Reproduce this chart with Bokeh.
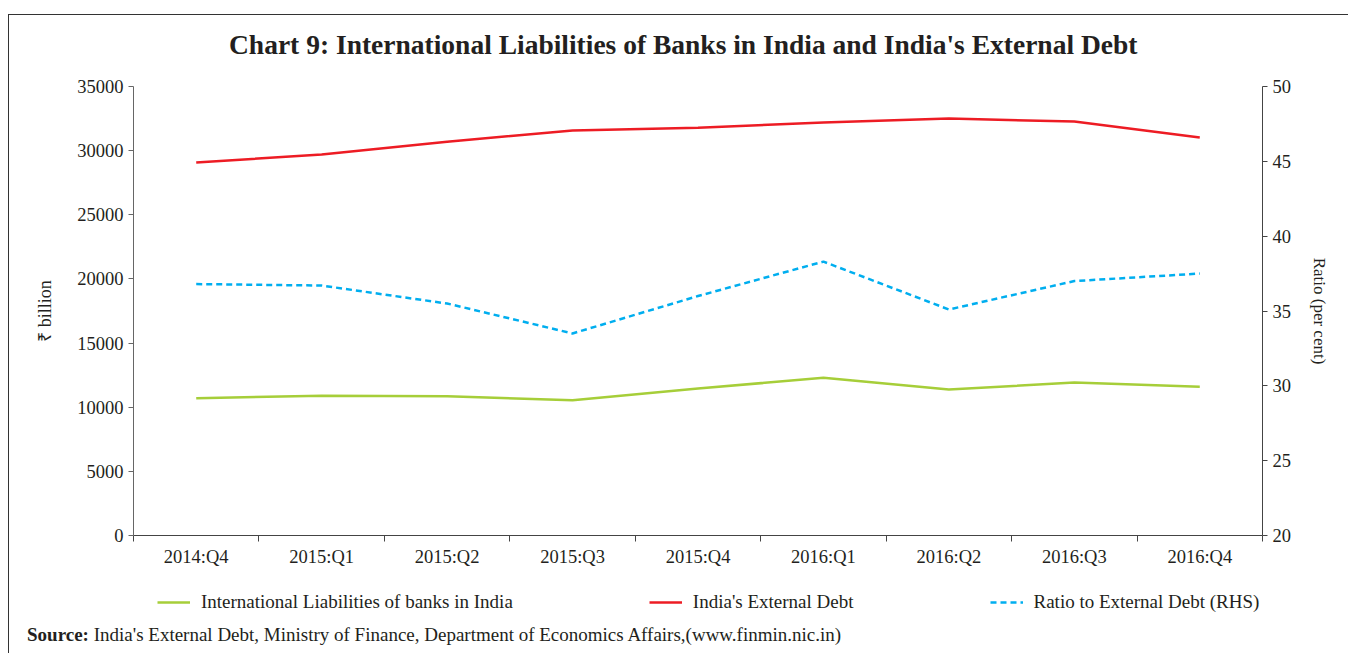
from bokeh.plotting import figure
from bokeh.models import (Range1d, LinearAxis, FixedTicker, Legend, LegendItem, Div,
                          ColumnDataSource)
from bokeh.layouts import column
from bokeh.embed import file_html
from bokeh.resources import INLINE
import numpy as np

quarters = ["2014:Q4", "2015:Q1", "2015:Q2", "2015:Q3", "2015:Q4",
            "2016:Q1", "2016:Q2", "2016:Q3", "2016:Q4"]
intl_liabilities = [10700, 10900, 10850, 10550, 11450, 12300, 11380, 11920, 11600]
external_debt = [29080, 29700, 30700, 31570, 31780, 32200, 32500, 32270, 31030]
ratio_rhs = [36.8, 36.7, 35.5, 33.5, 36.0, 38.3, 35.1, 37.0, 37.5]
left_ticks = [0, 5000, 10000, 15000, 20000, 25000, 30000, 35000]
right_ticks = [20, 25, 30, 35, 40, 45, 50]
series_labels = ["International Liabilities of banks in India", "India's External Debt",
                 "Ratio to External Debt (RHS)"]
series_colors = ["#A6CE39", "#ED1C24", "#00AEEF"]
series_dash = ["solid", "solid", "6 4"]
title_text = "Chart 9: International Liabilities of Banks in India and India's External Debt"
source_text = ("India's External Debt, Ministry of Finance, Department of Economics "
               "Affairs,(www.finmin.nic.in)")

FONT = "Liberation Serif"
AX = "#444444"
TXT = "#231F20"
W = 1339

x = np.arange(len(quarters)) + 0.5

# ---------- title ----------
title_div = Div(text=title_text, width=W, height=55, margin=0,
                styles={"font-family": FONT, "font-weight": "bold", "font-size": "27.5px",
                        "line-height": "33px", "color": TXT, "padding-top": "13px",
                        "padding-left": "220px", "white-space": "nowrap",
                        "box-sizing": "border-box"})

# ---------- main chart ----------
p = figure(width=W, height=501, output_backend="svg", toolbar_location=None,
           x_range=Range1d(0, len(quarters)), y_range=Range1d(0, 35000),
           min_border_left=124, min_border_right=86, min_border_top=16, min_border_bottom=36)
p.extra_y_ranges = {"right": Range1d(20, 50)}
p.outline_line_color = None
p.grid.visible = False

xa = p.xaxis[0]
xa.ticker = FixedTicker(ticks=list(x), minor_ticks=list(range(len(quarters) + 1)))
xa.major_label_overrides = {float(v): q for v, q in zip(x, quarters)}
xa.major_tick_out = 0
xa.major_tick_in = 0
xa.minor_tick_out = 6
xa.minor_tick_in = 0
xa.minor_tick_line_color = AX
xa.axis_line_color = AX
xa.major_label_standoff = 5
xa.major_label_text_font = FONT
xa.major_label_text_font_size = "18.5px"
xa.major_label_text_color = TXT

ya = p.yaxis[0]
ya.ticker = FixedTicker(ticks=left_ticks)
ya.axis_label = "₹ billion"
ya.axis_label_text_font = FONT
ya.axis_label_text_font_style = "normal"
ya.axis_label_text_font_size = "18px"
ya.axis_label_text_color = TXT
ya.axis_label_standoff = 19
ya.major_tick_out = 5
ya.major_tick_in = 0
ya.minor_tick_out = 0
ya.minor_tick_in = 0
ya.axis_line_color = "#666666"
ya.major_tick_line_color = "#666666"
ya.major_label_standoff = 5
ya.major_label_text_font = FONT
ya.major_label_text_font_size = "18.5px"
ya.major_label_text_color = TXT

ra = LinearAxis(y_range_name="right", ticker=FixedTicker(ticks=right_ticks),
                axis_label="Ratio (per cent)")
ra.axis_label_text_font = FONT
ra.axis_label_text_font_style = "normal"
ra.axis_label_text_font_size = "17px"
ra.axis_label_text_color = TXT
ra.axis_label_standoff = 16
ra.major_tick_out = 5
ra.major_tick_in = 0
ra.minor_tick_out = 0
ra.minor_tick_in = 0
ra.axis_line_color = AX
ra.major_tick_line_color = AX
ra.major_label_standoff = 5
ra.major_label_text_font = FONT
ra.major_label_text_font_size = "18.5px"
ra.major_label_text_color = TXT
p.add_layout(ra, "right")

p.line(x, intl_liabilities, line_color=series_colors[0], line_width=2.5)
p.line(x, external_debt, line_color=series_colors[1], line_width=2.5)
p.line(x, ratio_rhs, line_color=series_colors[2], line_width=2.5,
       line_dash=series_dash[2], y_range_name="right")

# ---------- legend strip (its frame lines up with the chart frame) ----------
lf = figure(width=W, height=54, output_backend="svg", toolbar_location=None,
            x_range=Range1d(0, 1), y_range=Range1d(0, 1),
            x_axis_location=None, y_axis_location=None,
            min_border_left=0, min_border_right=0, min_border_top=0, min_border_bottom=0)
lf.outline_line_color = None
lf.grid.visible = False
items = []
for lab, col, dash in zip(series_labels, series_colors, series_dash):
    nan_src = ColumnDataSource(data=dict(x=np.array([np.nan]), y=np.array([np.nan])))
    rr = lf.line("x", "y", source=nan_src, line_color=col, line_width=2.5, line_dash=dash)
    items.append(LegendItem(label=lab, renderers=[rr]))
leg = Legend(items=items, location=(24, 12), orientation="horizontal", spacing=136,
             glyph_width=33, glyph_height=20, label_standoff=11, padding=0, margin=0,
             border_line_color=None, background_fill_alpha=0, label_text_font=FONT,
             label_text_font_size="19px", label_text_color=TXT, label_height=20)
lf.add_layout(leg)

# ---------- source ----------
src = Div(text="<b>Source:</b> " + source_text, width=W, height=28, margin=0,
          styles={"font-family": FONT, "font-size": "19px", "line-height": "20px",
                  "color": TXT, "padding-left": "18px", "white-space": "nowrap",
                  "box-sizing": "border-box"})

layout = column(title_div, p, lf, src, spacing=0,
                styles={"margin-left": "8px", "margin-top": "14px",
                        "border-top": "1.5px solid #333",
                        "border-left": "1.5px solid #333"})

open("out.html", "w").write(file_html(layout, INLINE))
